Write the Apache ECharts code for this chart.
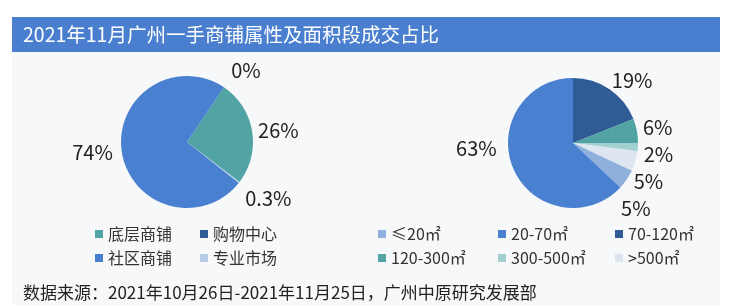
<!DOCTYPE html>
<html><head><meta charset="utf-8">
<script src="https://cdn.jsdelivr.net/npm/echarts@6/dist/echarts.min.js"></script>
<style>html,body{margin:0;padding:0;background:#fff}#c{width:734px;height:305px}</style>
</head><body><div id="c"></div>
<script>
const titleText = '2021年11月广州一手商铺属性及面积段成交占比';
const footerText = '数据来源：2021年10月26日-2021年11月25日，广州中原研究发展部';
const leftNames = ['购物中心', '底层商铺', '专业市场', '社区商铺'];
const leftValues = [0, 26, 0.3, 74];
const rightNames = ['70-120㎡', '120-300㎡', '300-500㎡', '>500㎡', '≤20㎡', '20-70㎡'];
const rightValues = [19, 6, 2, 5, 5, 63];

// styling (kept apart from the data)
const leftColors = ['#2f5c95', '#51a3a4', '#b8cde9', '#4a80d0'];
const rightColors = ['#2f5c95', '#51a3a4', '#a0d0cf', '#dde5f1', '#8fb0dc', '#4a80d0'];
const leftLabelShift = [[0, -14], [-3, 0], [-2, 13], [0, 0]];
const rightLabelShift = [[-5, -6], [2, -3], [2, -3], [-6, -4], [-14, -6], [-8, -22]];

const font = '"Noto Sans CJK SC", "Noto Sans", sans-serif';
const chart = echarts.init(document.getElementById('c'));

function pieData(names, values, colors, shifts) {
  return names.map((n, i) => ({
    name: n, value: values[i],
    itemStyle: { color: colors[i] },
    label: { offset: shifts[i] }
  }));
}
function legendCol(left, names) {
  return {
    left: left, top: 226, orient: 'vertical', padding: 0, itemGap: 8,
    itemWidth: 8, itemHeight: 8, icon: 'rect', selectedMode: false,
    data: names,
    textStyle: { fontSize: 16, color: '#333', fontFamily: font }
  };
}
const labelCfg = { show: true, position: 'outside', formatter: '{c}%', fontSize: 20, lineHeight: 25, color: '#222', fontFamily: font };

chart.setOption({
  animation: false,
  backgroundColor: '#ffffff',
  graphic: [
    { type: 'rect', shape: { x: 12, y: 52, width: 708, height: 253 }, style: { fill: '#f7f8fa' }, silent: true, z: -10 },
    { type: 'rect', shape: { x: 12, y: 17, width: 708, height: 35 }, style: { fill: '#4a7fcf' }, silent: true },
    { type: 'text', x: 23, y: 35, style: { text: titleText, fill: '#ffffff', fontSize: 19.5, fontFamily: font, verticalAlign: 'middle' }, silent: true },
    { type: 'text', x: 23, y: 293, style: { text: footerText, fill: '#222', fontSize: 17, fontFamily: font, verticalAlign: 'middle' }, silent: true }
  ],
  legend: [
    legendCol(95, [leftNames[1], leftNames[3]]),
    legendCol(200, [leftNames[0], leftNames[2]]),
    legendCol(378, [rightNames[4], rightNames[1]]),
    legendCol(498, [rightNames[5], rightNames[2]]),
    legendCol(615, [rightNames[0], rightNames[3]])
  ],
  series: [
    {
      type: 'pie', center: [187, 142], radius: 66, startAngle: 56, clockwise: true,
      silent: true, avoidLabelOverlap: true,
      label: labelCfg, labelLine: { show: false, length: 4, length2: 0 },
      data: pieData(leftNames, leftValues, leftColors, leftLabelShift)
    },
    {
      type: 'pie', center: [573, 143], radius: 65, startAngle: 90, clockwise: true,
      silent: true, avoidLabelOverlap: true,
      label: labelCfg, labelLine: { show: false, length: 4, length2: 0 },
      data: pieData(rightNames, rightValues, rightColors, rightLabelShift)
    }
  ]
});
</script></body></html>
